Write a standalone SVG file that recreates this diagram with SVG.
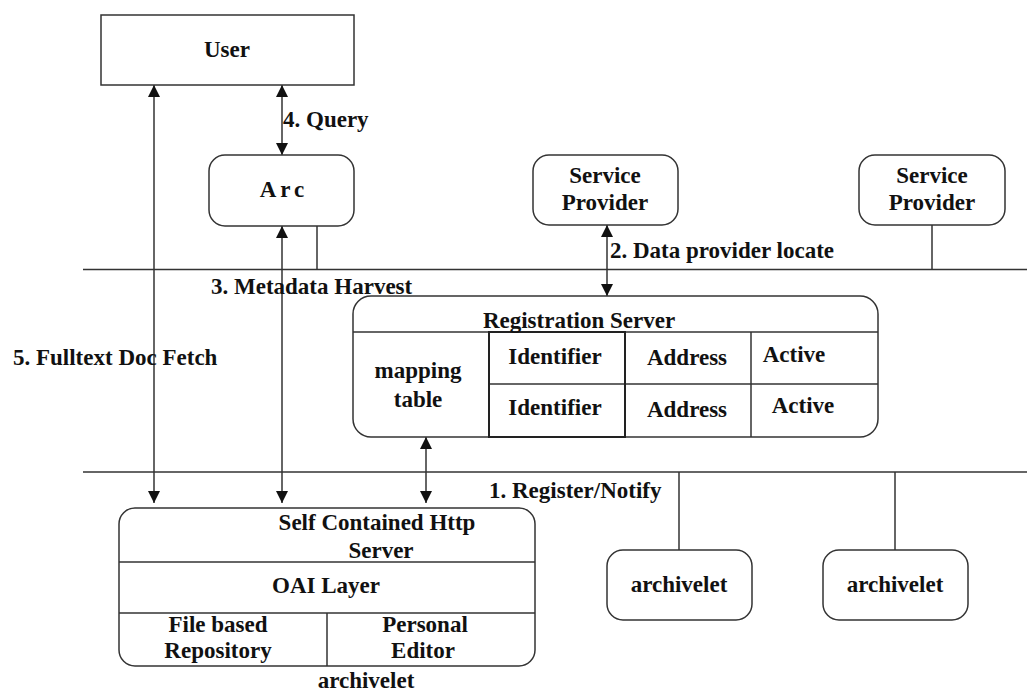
<svg xmlns="http://www.w3.org/2000/svg" width="1027" height="691" viewBox="0 0 1027 691">
<style>
  .box { fill: #fff; stroke: #333; stroke-width: 1.5; }
  .ln { stroke: #333; stroke-width: 1.5; fill: none; }
  .t { font-family: "Liberation Serif", "Times New Roman", serif; font-weight: bold; font-size: 23px; fill: #111; }
  .c { text-anchor: middle; }
</style>
<defs>
  <marker id="ah" viewBox="0 0 12 12" refX="12" refY="6" markerWidth="12" markerHeight="12" markerUnits="userSpaceOnUse" orient="auto-start-reverse">
    <path d="M0,0 L12,6 L0,12 z" fill="#111"/>
  </marker>
</defs>
<rect width="1027" height="691" fill="#fff"/>

<g id="connectors">
  <line class="ln" x1="83" y1="269.5" x2="1027" y2="269.5"/>
  <line class="ln" x1="83" y1="472" x2="1027" y2="472"/>
  <line class="ln" x1="154" y1="85" x2="154" y2="503" marker-start="url(#ah)" marker-end="url(#ah)"/>
  <line class="ln" x1="282" y1="85" x2="282" y2="155" marker-start="url(#ah)" marker-end="url(#ah)"/>
  <line class="ln" x1="282" y1="226" x2="282" y2="503" marker-start="url(#ah)" marker-end="url(#ah)"/>
  <line class="ln" x1="317" y1="226" x2="317" y2="269.5"/>
  <line class="ln" x1="607" y1="225" x2="607" y2="296" marker-start="url(#ah)" marker-end="url(#ah)"/>
  <line class="ln" x1="932" y1="225" x2="932" y2="269.5"/>
  <line class="ln" x1="426" y1="437" x2="426" y2="503" marker-start="url(#ah)" marker-end="url(#ah)"/>
  <line class="ln" x1="679" y1="472" x2="679" y2="550"/>
  <line class="ln" x1="895" y1="472" x2="895" y2="550"/>
  <text class="t" x="283" y="127">4. Query</text>
  <text class="t" x="211" y="294">3. Metadata Harvest</text>
  <text class="t" x="610" y="258">2. Data provider locate</text>
  <text class="t" x="13" y="365">5. Fulltext Doc Fetch</text>
  <text class="t" x="489" y="498">1. Register/Notify</text>
</g>

<g id="user">
  <rect class="box" x="101" y="15" width="253" height="70"/>
  <text class="t c" x="227" y="57">User</text>
</g>

<g id="arc">
  <rect class="box" x="209" y="155" width="145" height="71" rx="16"/>
  <text class="t c" x="284" y="197" letter-spacing="4">Arc</text>
</g>

<g id="service-provider-1">
  <rect class="box" x="533" y="155" width="145" height="70" rx="16"/>
  <text class="t c" x="605" y="183">Service</text>
  <text class="t c" x="605" y="210">Provider</text>
</g>

<g id="service-provider-2">
  <rect class="box" x="859" y="155" width="146" height="70" rx="16"/>
  <text class="t c" x="932" y="183">Service</text>
  <text class="t c" x="932" y="210">Provider</text>
</g>

<g id="registration-server">
  <rect class="box" x="353" y="296" width="525" height="141" rx="18"/>
  <line class="ln" x1="353" y1="332" x2="878" y2="332"/>
  <line class="ln" x1="489" y1="384" x2="878" y2="384"/>
  <line class="ln" x1="751" y1="332" x2="751" y2="437"/>
  <rect x="489" y="332" width="136" height="105" fill="none" stroke="#222" stroke-width="2"/>
  <text class="t c" x="579" y="328">Registration Server</text>
  <text class="t c" x="418" y="378">mapping</text>
  <text class="t c" x="418" y="407">table</text>
  <text class="t c" x="555" y="364">Identifier</text>
  <text class="t c" x="555" y="415">Identifier</text>
  <text class="t c" x="687" y="365">Address</text>
  <text class="t c" x="687" y="417">Address</text>
  <text class="t c" x="794" y="362">Active</text>
  <text class="t c" x="803" y="413">Active</text>
</g>

<g id="archivelet-main">
  <rect class="box" x="119" y="508" width="416" height="158" rx="16"/>
  <line class="ln" x1="119" y1="562" x2="535" y2="562"/>
  <line class="ln" x1="119" y1="613" x2="535" y2="613"/>
  <line class="ln" x1="327" y1="613" x2="327" y2="666"/>
  <text class="t c" x="377" y="530">Self Contained Http</text>
  <text class="t c" x="381" y="558">Server</text>
  <text class="t c" x="326" y="593">OAI Layer</text>
  <text class="t c" x="218" y="632">File based</text>
  <text class="t c" x="218" y="658">Repository</text>
  <text class="t c" x="425" y="632">Personal</text>
  <text class="t c" x="423" y="658">Editor</text>
  <text class="t c" x="366" y="688">archivelet</text>
</g>

<g id="archivelet-1">
  <rect class="box" x="607" y="550" width="145" height="70" rx="16"/>
  <text class="t c" x="679" y="592">archivelet</text>
</g>

<g id="archivelet-2">
  <rect class="box" x="823" y="550" width="145" height="70" rx="16"/>
  <text class="t c" x="895" y="592">archivelet</text>
</g>
</svg>
